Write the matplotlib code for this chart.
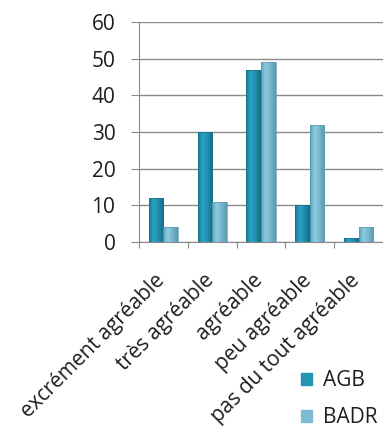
import matplotlib
matplotlib.use("Agg")
import matplotlib.pyplot as plt
from matplotlib.colors import LinearSegmentedColormap
from matplotlib.transforms import ScaledTranslation
import numpy as np

categories = ["excrément agréable", "très agréable", "agréable", "peu agréable", "pas du tout agréable"]
agb = [12, 30, 47, 10, 1]
badr = [4, 11, 49, 32, 4]
series_names = ["AGB", "BADR"]
yticks = [0, 10, 20, 30, 40, 50, 60]

plt.rcParams["font.family"] = ["Open Sans", "DejaVu Sans"]

fig = plt.figure(figsize=(3.83, 4.28), dpi=100)
ax = fig.add_axes([139 / 383, 1 - 242 / 428, 1 - 139 / 383, (242 - 22) / 428])

x = np.arange(len(categories))
w = 0.30
c_agb = "#2494b4"
c_badr = "#7dbdd3"
shade_agb = LinearSegmentedColormap.from_list(
    "agb", [(0, "#1b7896"), (0.3, "#2aa3c4"), (0.55, "#2496b6"), (1, "#176a84")])
shade_badr = LinearSegmentedColormap.from_list(
    "badr", [(0, "#5c9fb9"), (0.3, "#8ccde1"), (0.55, "#7dbcd2"), (1, "#5b98ae")])

ax.set_ylim(0, 60)
ax.set_xlim(-0.5, 4.43)

grad = np.linspace(0, 1, 64).reshape(1, -1)
for offs, vals, cmap, edge in ((-w / 2, agb, shade_agb, "#1a6f88"),
                               (w / 2, badr, shade_badr, "#5f9bb2")):
    bars = ax.bar(x + offs, vals, w, color="none", edgecolor=edge, linewidth=0.5, zorder=4)
    for b in bars:
        x0, y0 = b.get_x(), b.get_y()
        bw, bh = b.get_width(), b.get_height()
        im = ax.imshow(grad, cmap=cmap, aspect="auto", extent=(x0, x0 + bw, y0, y0 + bh),
                       interpolation="bicubic", zorder=3)
        im.set_clip_path(b)

ax.set_xlim(-0.5, 4.43)
ax.set_ylim(0, 60)
ax.set_yticks(yticks)
ax.yaxis.grid(True, color="#8a8a8a", linewidth=1.0, zorder=0)
ax.set_axisbelow(True)
for s in ["top", "right"]:
    ax.spines[s].set_visible(False)
ax.spines["left"].set_color("#8a8a8a")
ax.spines["bottom"].set_color("#8a8a8a")
ax.tick_params(axis="y", length=6, color="#8a8a8a", labelsize=15, pad=11, labelcolor="#1e1e1e")

ax.set_xticks(np.arange(-0.5, 4.6, 1.0))
ax.set_xticklabels([])
ax.tick_params(axis="x", length=4, color="#8a8a8a")
ax.set_xticks(x, minor=True)
ax.set_xticklabels(categories, minor=True, rotation=45, ha="right", va="top",
                   rotation_mode="anchor", fontsize=15, color="#1e1e1e")
ax.tick_params(axis="x", which="minor", length=0, pad=20)
shift = ScaledTranslation(-6.5 / 72, 0, fig.dpi_scale_trans)
for lab in ax.xaxis.get_minorticklabels():
    lab.set_transform(lab.get_transform() + shift)

handles = [plt.Rectangle((0, 0), 1, 1, color=c) for c in (c_agb, c_badr)]
fig.legend(handles, series_names, loc="upper left", bbox_to_anchor=(291 / 383, 1 - 360 / 428),
           frameon=False, fontsize=15, handlelength=0.5, handleheight=0.5,
           handletextpad=0.55, labelspacing=0.75, borderpad=0, labelcolor="#1e1e1e")

fig.savefig("out.png", dpi=100)
